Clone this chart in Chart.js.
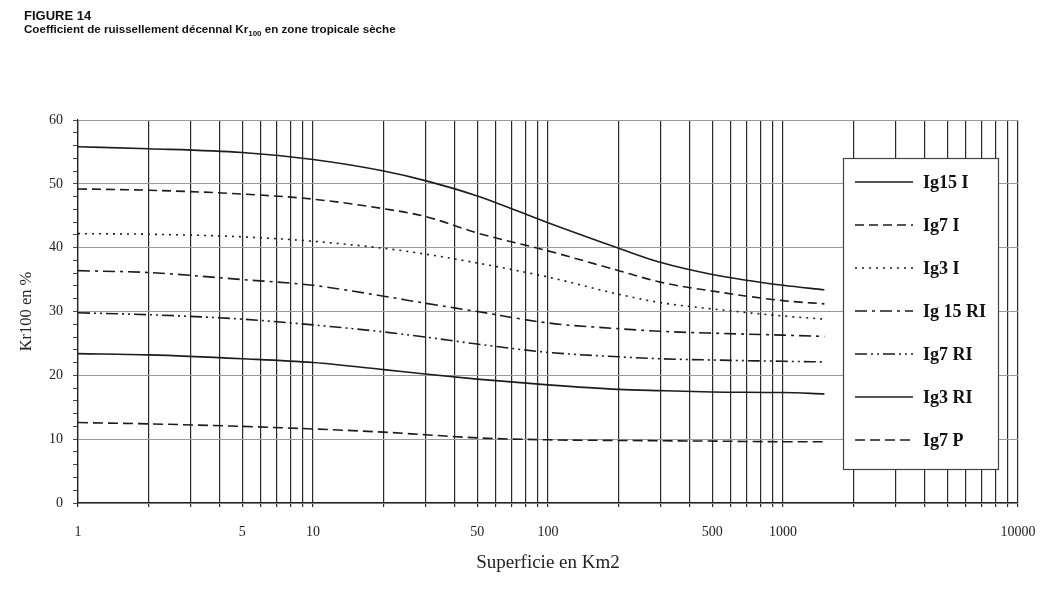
<!DOCTYPE html>
<html lang="fr">
<head>
<meta charset="utf-8">
<title>Figure 14 - Kr100 zone tropicale sèche</title>
<script src="https://cdn.jsdelivr.net/npm/chart.js@4.4.1/dist/chart.umd.min.js"></script>
<style>
  html, body { margin: 0; padding: 0; background: #fff; }
  #wrap { position: relative; width: 1059px; height: 611px; }
  #fig-title {
    position: absolute; left: 24px; top: 10px; z-index: 2;
    font-family: "Liberation Sans", Arial, sans-serif;
    font-weight: bold; font-size: 11.6px; line-height: 12.5px; color: #111;
  }
  #fig-title .l1 { font-size: 13px; }
  #fig-title sub { font-size: 8px; vertical-align: -3px; line-height: 0; }
  canvas { position: absolute; left: 0; top: 0; }
</style>
</head>
<body>
<div id="wrap">
  <div id="fig-title"><span class="l1">FIGURE 14</span><br>Coefficient de ruissellement décennal Kr<sub>100</sub> en zone tropicale sèche</div>
  <canvas id="kr-chart" width="1059" height="611"></canvas>
</div>
<script>
// Superficie (km2) where the curves were read
const superficie = [1, 2, 5, 10, 20, 30, 50, 100, 200, 300, 500, 1000, 1500];

// Kr100 (%) for each curve
const ig15I  = [55.8, 55.5, 54.9, 53.8, 52.0, 50.5, 48.1, 43.9, 39.9, 37.7, 35.8, 34.1, 33.4];
const ig7I   = [49.2, 49.0, 48.4, 47.6, 46.1, 44.9, 42.3, 39.5, 36.4, 34.6, 33.2, 31.7, 31.2];
const ig3I   = [42.2, 42.1, 41.7, 41.0, 39.9, 39.0, 37.6, 35.4, 32.7, 31.4, 30.4, 29.3, 28.8];
const ig15RI = [36.4, 36.1, 35.0, 34.1, 32.4, 31.3, 30.0, 28.2, 27.3, 26.9, 26.6, 26.3, 26.1];
const ig7RI  = [29.8, 29.5, 28.8, 27.9, 26.8, 26.0, 24.9, 23.6, 22.9, 22.6, 22.4, 22.2, 22.1];
const ig3RI  = [23.4, 23.2, 22.6, 22.0, 20.9, 20.2, 19.4, 18.5, 17.8, 17.6, 17.4, 17.3, 17.1];
const ig7P   = [12.6, 12.4, 12.0, 11.6, 11.1, 10.7, 10.2, 9.9, 9.8, 9.75, 9.7, 9.6, 9.6];

// Vertical grid positions and the ones that get a label
const xGridTicks = [
  1, 2, 3, 4, 5, 6, 7, 8, 9,
  10, 20, 30, 40, 50, 60, 70, 80, 90,
  100, 200, 300, 400, 500, 600, 700, 800, 900,
  1000, 2000, 3000, 4000, 5000, 6000, 7000, 8000, 9000,
  10000
];
const xTickLabels = [1, 5, 10, 50, 100, 500, 1000, 10000];

const serif = '"Liberation Serif", "Times New Roman", serif';
const ink = '#1c1c1c';

function points(values) {
  return superficie.map((s, i) => ({ x: s, y: values[i] }));
}

function curve(label, values, dash) {
  return {
    label: label,
    data: points(values),
    borderColor: ink,
    borderWidth: 1.6,
    borderDash: dash,
    pointRadius: 0,
    fill: false,
    cubicInterpolationMode: 'monotone'
  };
}

// Legend drawn as a framed box inside the plot, like the original figure
const legendBox = {
  id: 'legendBox',
  afterDatasetsDraw(chart) {
    const ctx = chart.ctx;
    const area = chart.chartArea;
    const x0 = area.right - 175;
    const y0 = area.top + 38;
    const w = 155;
    const h = 311;

    ctx.save();
    ctx.fillStyle = '#fff';
    ctx.fillRect(x0, y0, w, h);
    ctx.strokeStyle = '#444';
    ctx.lineWidth = 1.2;
    ctx.strokeRect(x0 + 0.5, y0 + 0.5, w, h);

    chart.data.datasets.forEach((ds, i) => {
      const y = y0 + 24 + i * 43;
      ctx.beginPath();
      ctx.setLineDash(ds.borderDash || []);
      ctx.strokeStyle = ds.borderColor;
      ctx.lineWidth = ds.borderWidth;
      ctx.moveTo(x0 + 12, y);
      ctx.lineTo(x0 + 70, y);
      ctx.stroke();
      ctx.setLineDash([]);

      ctx.fillStyle = '#111';
      ctx.font = 'bold 18px ' + serif;
      ctx.textAlign = 'left';
      ctx.textBaseline = 'middle';
      ctx.fillText(ds.label, x0 + 80, y + 1);
    });
    ctx.restore();
  }
};

function createKrChart() {
  const canvas = document.getElementById('kr-chart');
  if (!canvas) {
    console.warn('Chart canvas not found');
    return;
  }

  try {
    const data = {
      datasets: [
        curve('Ig15 I', ig15I, []),
        curve('Ig7 I', ig7I, [9, 5]),
        curve('Ig3 I', ig3I, [2, 5]),
        curve('Ig 15 RI', ig15RI, [12, 5, 3, 5]),
        curve('Ig7 RI', ig7RI, [12, 4, 2, 4, 2, 4]),
        curve('Ig3 RI', ig3RI, []),
        curve('Ig7 P', ig7P, [10, 5])
      ]
    };

    const config = {
      type: 'line',
      data: data,
      options: {
        responsive: false,
        animation: false,
        layout: {
          padding: { top: 120, right: 41, bottom: 0, left: 0 }
        },
        plugins: {
          legend: { display: false },
          tooltip: { enabled: false }
        },
        scales: {
          x: {
            type: 'logarithmic',
            min: 1,
            max: 10000,
            afterBuildTicks: scale => {
              scale.ticks = xGridTicks.map(v => ({ value: v }));
            },
            afterFit: scale => {
              scale.height = 108;
            },
            ticks: {
              autoSkip: false,
              maxRotation: 0,
              padding: 17,
              color: '#222',
              font: { family: serif, size: 14 },
              callback: value => (xTickLabels.includes(value) ? String(value) : '')
            },
            grid: {
              color: '#2a2a2a',
              lineWidth: 1.2,
              tickLength: 4
            },
            border: { color: '#222', width: 1.3 },
            title: {
              display: true,
              text: 'Superficie en Km2',
              color: '#222',
              font: { family: serif, size: 19 },
              padding: { top: 4, bottom: 37 }
            }
          },
          y: {
            type: 'linear',
            min: 0,
            max: 60,
            afterFit: scale => {
              scale.width = 78;
            },
            ticks: {
              stepSize: 2,
              autoSkip: false,
              padding: 10,
              color: '#222',
              font: { family: serif, size: 14 },
              callback: value => (value % 10 === 0 ? String(value) : '')
            },
            grid: {
              color: c => (c.tick && c.tick.value % 10 === 0 ? '#9a9a9a' : 'rgba(0,0,0,0)'),
              tickColor: '#444',
              lineWidth: 1,
              tickLength: 5
            },
            border: { color: '#222', width: 1.3 },
            title: {
              display: true,
              text: 'Kr100 en %',
              color: '#222',
              font: { family: serif, size: 16.5 },
              padding: { top: 17, bottom: 4 }
            }
          }
        }
      },
      plugins: [legendBox]
    };

    new Chart(canvas, config);
  } catch (error) {
    console.error('Error creating Kr100 chart:', error);
  }
}

createKrChart();
</script>
</body>
</html>
